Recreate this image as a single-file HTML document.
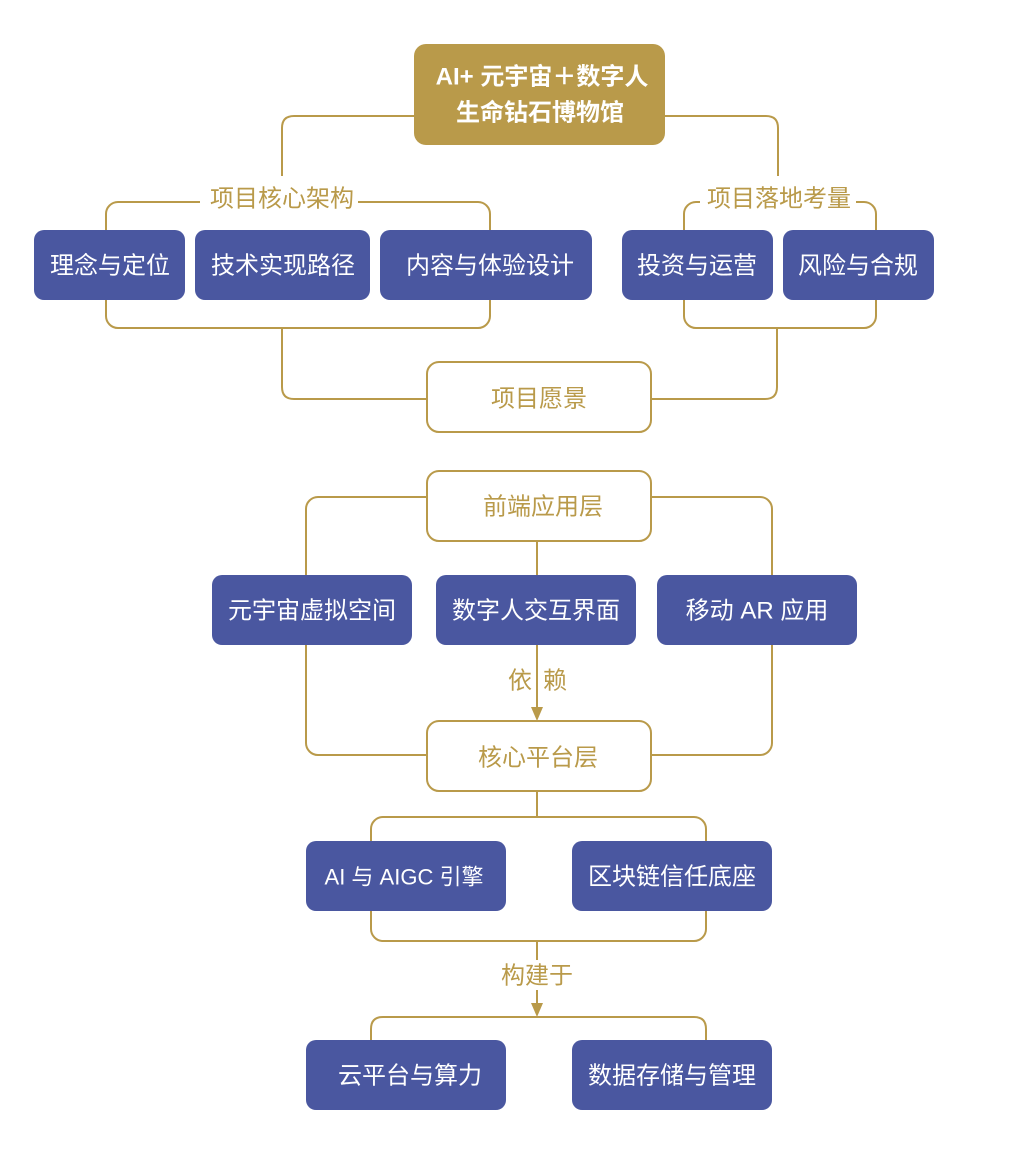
<!DOCTYPE html>
<html><head><meta charset="utf-8"><style>
html,body{margin:0;padding:0;background:#fff;}
svg{display:block;}
text{font-family:"Liberation Sans","Noto Sans CJK SC",sans-serif;}
.w{fill:#fff;font-size:24px;text-anchor:middle;dominant-baseline:central;}
.g{fill:#B99A4A;font-size:24px;text-anchor:middle;dominant-baseline:central;}
</style></head><body>
<svg width="1020" height="1157" viewBox="0 0 1020 1157" xmlns="http://www.w3.org/2000/svg">
<g fill="none" stroke="#B99A4A" stroke-width="2">
<path d="M414 116 H294 Q282 116 282 128 V176"/>
<path d="M665 116 H766 Q778 116 778 128 V176"/>
<rect x="106" y="202" width="384" height="126" rx="12"/>
<rect x="684" y="202" width="192" height="126" rx="12"/>
<path d="M282 328 V387 Q282 399 294 399 H427"/>
<path d="M777 328 V387 Q777 399 765 399 H651"/>
<rect x="306" y="497" width="466" height="258" rx="12"/>
<path d="M537 541 V575 M537 645 V710"/>
<path d="M537 791 V817"/>
<rect x="371" y="817" width="335" height="124" rx="12"/>
<path d="M537 941 V1006"/>
<path d="M371 1045 V1029 Q371 1017 383 1017 H694 Q706 1017 706 1029 V1045"/>
</g>
<g fill="#B99A4A">
<path d="M531 707 L543 707 L537 721 Z"/>
<path d="M531 1003 L543 1003 L537 1017 Z"/>
</g>
<rect x="200" y="186" width="158" height="26" fill="#fff"/>
<text class="g" x="282" y="199">项目核心架构</text>
<rect x="700" y="186" width="156" height="26" fill="#fff"/>
<text class="g" x="779" y="199">项目落地考量</text>
<rect x="414" y="44" width="251" height="101" rx="12" fill="#B99A4A"/>
<text class="w" x="542" y="77" style="font-weight:bold">AI+ 元宇宙＋数字人</text>
<text class="w" x="540" y="113" style="font-weight:bold">生命钻石博物馆</text>
<g fill="#4A57A0">
<rect x="34" y="230" width="151" height="70" rx="10"/>
<rect x="195" y="230" width="175" height="70" rx="10"/>
<rect x="380" y="230" width="212" height="70" rx="10"/>
<rect x="622" y="230" width="151" height="70" rx="10"/>
<rect x="783" y="230" width="151" height="70" rx="10"/>
<rect x="212" y="575" width="200" height="70" rx="10"/>
<rect x="436" y="575" width="200" height="70" rx="10"/>
<rect x="657" y="575" width="200" height="70" rx="10"/>
<rect x="306" y="841" width="200" height="70" rx="10"/>
<rect x="572" y="841" width="200" height="70" rx="10"/>
<rect x="306" y="1040" width="200" height="70" rx="10"/>
<rect x="572" y="1040" width="200" height="70" rx="10"/>
</g>
<text class="w" x="110" y="266">理念与定位</text>
<text class="w" x="283" y="266">技术实现路径</text>
<text class="w" x="490" y="266">内容与体验设计</text>
<text class="w" x="697" y="266">投资与运营</text>
<text class="w" x="858" y="266">风险与合规</text>
<text class="w" x="312" y="611">元宇宙虚拟空间</text>
<text class="w" x="536" y="611">数字人交互界面</text>
<text class="w" x="757" y="611">移动 AR 应用</text>
<text class="w" x="404" y="877" style="font-size:22px">AI 与 AIGC 引擎</text>
<text class="w" x="672" y="877">区块链信任底座</text>
<text class="w" x="410" y="1076">云平台与算力</text>
<text class="w" x="672" y="1076">数据存储与管理</text>
<g fill="#fff" stroke="#B99A4A" stroke-width="2">
<rect x="427" y="362" width="224" height="70" rx="12"/>
<rect x="427" y="471" width="224" height="70" rx="12"/>
<rect x="427" y="721" width="224" height="70" rx="12"/>
</g>
<text class="g" x="539" y="399">项目愿景</text>
<text class="g" x="543" y="507">前端应用层</text>
<text class="g" x="538" y="758">核心平台层</text>
<text class="g" x="520" y="681">依</text>
<text class="g" x="555" y="681">赖</text>
<rect x="498" y="960" width="78" height="30" fill="#fff"/>
<text class="g" x="537" y="976">构建于</text>
</svg>
</body></html>
